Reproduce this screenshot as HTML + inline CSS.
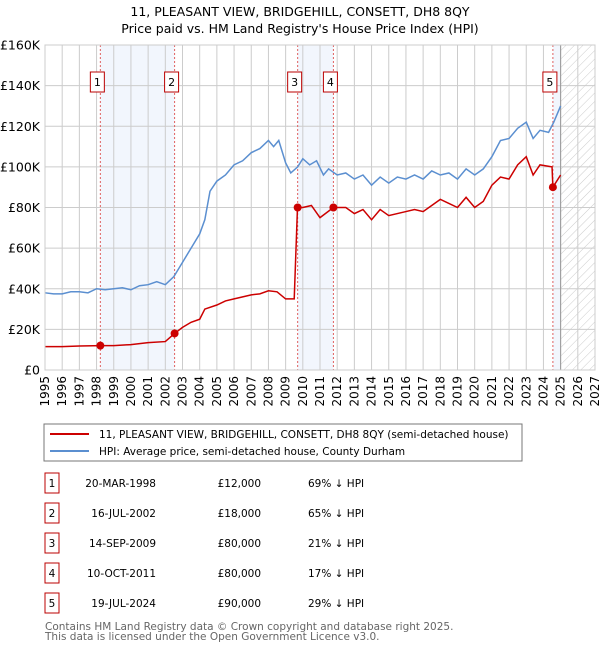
<!DOCTYPE html>
<html><head><meta charset="utf-8"><style>
body{margin:0;background:#fff;width:600px;height:650px;overflow:hidden}
svg{display:block;font-family:"DejaVu Sans","Liberation Sans",sans-serif}
</style></head><body>
<svg id="c" width="600" height="650">
<defs><pattern id="hatch" width="6" height="6" patternUnits="userSpaceOnUse" patternTransform="rotate(45)"><line x1="0" y1="0" x2="0" y2="6" stroke="#ccc" stroke-width="1"/></pattern></defs>
<text x="300" y="16" text-anchor="middle" font-size="12.5">11, PLEASANT VIEW, BRIDGEHILL, CONSETT, DH8 8QY</text>
<text x="300" y="33" text-anchor="middle" font-size="12.5">Price paid vs. HM Land Registry's House Price Index (HPI)</text>
<g id="plot"></g>
<rect x="44" y="424" width="478" height="37" fill="#fff" stroke="#777"/>
<line x1="50" y1="434" x2="89" y2="434" stroke="#cc0000" stroke-width="2"/>
<text x="99" y="438" font-size="10.5">11, PLEASANT VIEW, BRIDGEHILL, CONSETT, DH8 8QY (semi-detached house)</text>
<line x1="50" y1="451" x2="89" y2="451" stroke="#5b8fd0" stroke-width="2"/>
<text x="99" y="455" font-size="10.5">HPI: Average price, semi-detached house, County Durham</text>
<g id="tbl"></g>
<text x="45" y="630" font-size="10.5" fill="#666">Contains HM Land Registry data © Crown copyright and database right 2025.</text>
<text x="45" y="640" font-size="10.5" fill="#666">This data is licensed under the Open Government Licence v3.0.</text>
</svg>
<script>
const NS="http://www.w3.org/2000/svg";
const yTicks=[0,20,40,60,80,100,120,140,160];
const yTickLabels=["£0","£20K","£40K","£60K","£80K","£100K","£120K","£140K","£160K"];
const xYears=[1995,1996,1997,1998,1999,2000,2001,2002,2003,2004,2005,2006,2007,2008,2009,2010,2011,2012,2013,2014,2015,2016,2017,2018,2019,2020,2021,2022,2023,2024,2025,2026,2027];
const hpiX=[1995,1995.5,1996,1996.5,1997,1997.5,1998,1998.5,1999,1999.5,2000,2000.5,2001,2001.5,2002,2002.5,2003,2003.5,2004,2004.3,2004.6,2005,2005.5,2006,2006.5,2007,2007.5,2008,2008.3,2008.6,2009,2009.3,2009.7,2010,2010.4,2010.8,2011.2,2011.5,2012,2012.5,2013,2013.5,2014,2014.5,2015,2015.5,2016,2016.5,2017,2017.5,2018,2018.5,2019,2019.5,2020,2020.5,2021,2021.5,2022,2022.5,2023,2023.4,2023.8,2024.3,2024.6,2025];
const hpiY=[38,37.5,37.5,38.5,38.5,38,40,39.5,40,40.5,39.5,41.5,42,43.5,42,46,53,60,67,74,88,93,96,101,103,107,109,113,110,113,102,97,100,104,101,103,96,99,96,97,94,96,91,95,92,95,94,96,94,98,96,97,94,99,96,99,105,113,114,119,122,114,118,117,122,130];
const priceX=[1995,1996,1997,1998.22,1999,2000,2001,2002,2002.54,2003,2003.5,2004,2004.3,2005,2005.5,2006,2006.5,2007,2007.5,2008,2008.5,2009,2009.5,2009.69,2010,2010.5,2011,2011.78,2012.5,2013,2013.5,2014,2014.5,2015,2016,2016.5,2017,2017.5,2018,2018.5,2019,2019.5,2020,2020.5,2021,2021.5,2022,2022.5,2023,2023.4,2023.8,2024.5,2024.55,2025];
const priceY=[11.5,11.5,11.8,12,12,12.5,13.5,14,18,21,23.5,25,30,32,34,35,36,37,37.5,39,38.5,35,35,80,80,81,75,80,80,77,79,74,79,76,78,79,78,81,84,82,80,85,80,83,91,95,94,101,105,96,101,100,90,96];
const saleX=[1998.22,2002.54,2009.70,2011.78,2024.55];
const saleY=[12,18,80,80,90];
const saleDates=["20-MAR-1998","16-JUL-2002","14-SEP-2009","10-OCT-2011","19-JUL-2024"];
const salePrices=["£12,000","£18,000","£80,000","£80,000","£90,000"];
const saleHpi=["69% ↓ HPI","65% ↓ HPI","21% ↓ HPI","17% ↓ HPI","29% ↓ HPI"];
const X=y=>45+(y-1995)*(550/32);
const Y=v=>370-v*(325/160);
function mk(t,a,p){const e=document.createElementNS(NS,t);for(const k in a)e.setAttribute(k,a[k]);(p||document.getElementById('plot')).appendChild(e);return e;}
[[saleX[0],saleX[1]],[saleX[2],saleX[3]],[saleX[4],2025]].forEach((r,i)=>{
 const e=mk('rect',{x:X(r[0]),y:45,width:X(r[1])-X(r[0]),height:325,fill:'#eef3fc',opacity:0.75});
 
 
});
const h=mk('rect',{x:X(2025),y:45,width:X(2027)-X(2025),height:325,fill:'url(#hatch)'});


xYears.forEach(yr=>{
 const l=mk('line',{x1:X(yr),x2:X(yr),y1:45,y2:370,stroke:'#ccc','stroke-width':1});
 
 
 const t=mk('text',{x:0,y:0,'font-size':12,'text-anchor':'end',transform:`translate(${X(yr)+4},376) rotate(-90)`});
 t.textContent=yr;
 
 
});
yTicks.forEach((v,i)=>{
 const l=mk('line',{x1:45,x2:595,y1:Y(v),y2:Y(v),stroke:'#ccc','stroke-width':1});
 
 
 const t=mk('text',{x:40,y:Y(v)+4.5,'font-size':12.5,'text-anchor':'end'});
 t.textContent=yTickLabels[i];
 
 
});
const ln=mk('line',{x1:X(2025),x2:X(2025),y1:45,y2:370,stroke:'#999','stroke-width':1});


saleX.forEach((sx,i)=>{
 const l=mk('line',{x1:X(sx),x2:X(sx),y1:45,y2:370,stroke:'#e06060','stroke-width':1,'stroke-dasharray':'2,2'});
 
 
});
const hp=mk('polyline',{points:hpiX.map((x,i)=>X(x)+','+Y(hpiY[i])).join(' '),fill:'none',stroke:'#5b8fd0','stroke-width':1.5});


const pp=mk('polyline',{points:priceX.map((x,i)=>X(x)+','+Y(priceY[i])).join(' '),fill:'none',stroke:'#cc0000','stroke-width':1.5});


saleX.forEach((sx,i)=>{
 const c=mk('circle',{cx:X(sx),cy:Y(saleY[i]),r:4,fill:'#cc0000'});
 
 
 const r=mk('rect',{x:X(sx)-10,y:72,width:14,height:20,fill:'#fff',stroke:'#b00'});
 
 
 const t=mk('text',{x:X(sx)-3,y:86,'font-size':11,'text-anchor':'middle'});
 t.textContent=i+1;
 
 
});
const ax=mk('rect',{x:45,y:45,width:550,height:325,fill:'none',stroke:'#ccc'});


const tb=document.getElementById('tbl');
saleDates.forEach((d,i)=>{
 const cy=483+i*30;
 const r=mk('rect',{x:45,y:cy-10,width:14,height:20,fill:'#fff',stroke:'#b00'},tb);
 
 
 const n=mk('text',{x:52,y:cy+4,'font-size':10.5,'text-anchor':'middle'},tb);n.textContent=i+1;
 
 
 const a=mk('text',{x:156,y:cy+4,'font-size':10.5,'text-anchor':'end'},tb);a.textContent=d;
 
 
 const b=mk('text',{x:261,y:cy+4,'font-size':10.5,'text-anchor':'end'},tb);b.textContent=salePrices[i];
 
 
 const c=mk('text',{x:308,y:cy+4,'font-size':10.5},tb);c.textContent=saleHpi[i];
 
 
});
</script>
</body></html>
